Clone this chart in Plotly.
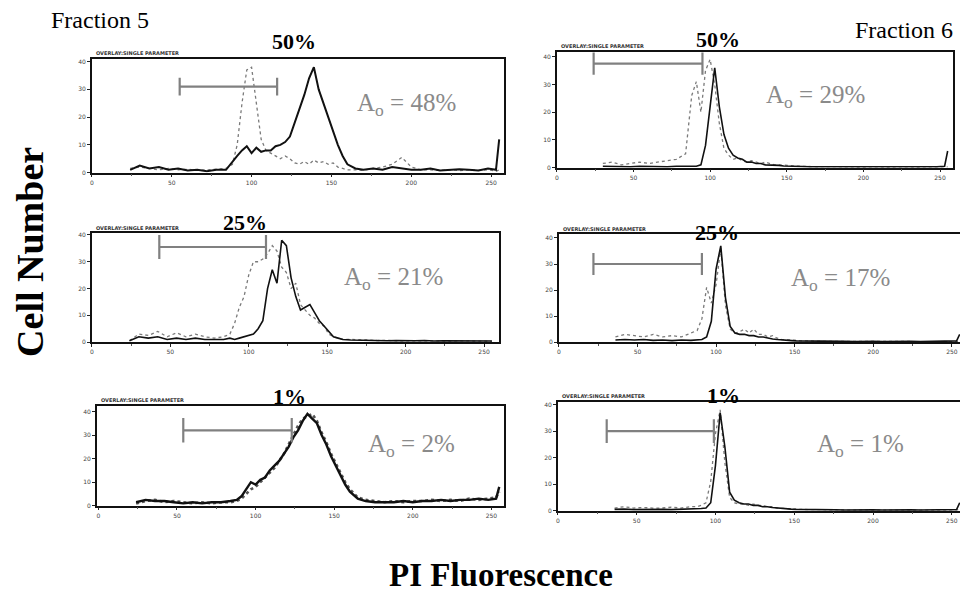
import plotly.graph_objects as go

# ---------------- data (histogram channel grid + counts) ----------------
CHANNELS = [24, 30, 36, 42, 48, 54, 60, 66, 72, 78, 84,
            88, 91, 94, 97, 100, 103, 106, 109, 112, 115, 118, 121, 124, 127, 130,
            133, 136, 139, 142, 145, 148, 151, 154, 157, 160,
            165, 170,
            176, 182, 188, 194, 200, 206, 212, 218, 224, 230, 236, 242, 248,
            253, 255]

X_TICKS = [0, 50, 100, 150, 200, 250]
Y_TICKS = [0, 10, 20, 30, 40]

# Fraction 5, 50 %
F5_50_DOT = [1.5, 2, 1.5, 1, 1.5, 1, 1.2, 0.8, 1, 1.3, 1.5,
             3, 10, 25, 37, 38, 25, 12, 8, 7, 6, 5, 6, 5, 3.5, 3,
             4, 3, 4.5, 3.5, 4, 3, 3.5, 2, 1.5, 1,
             1, 0.8,
             1.5, 2, 3, 5.5, 2, 1, 1, 0.8, 1, 0.7, 1, 0.8, 1,
             0.5, 1]
F5_50_SOLID = [1, 2.5, 1.5, 2, 1, 1.5, 0.8, 1, 0.5, 1, 1,
               4, 6, 8, 9.5, 7, 9, 7.5, 8, 8, 9.5, 10, 11, 13, 18, 23,
               28, 34, 38, 30, 25, 20, 15, 10, 6, 3,
               1.5, 1,
               1.5, 1, 2, 1.5, 1, 1, 1.5, 0.8, 1, 1.2, 1, 0.8, 1.5,
               1, 12]

# Fraction 6, 50 %
F6_50_DOT = [None, 1.5, 2, 1, 1.5, 2, 1.5, 2, 2.5, 3, 5,
             26, 31, 20, 35, 39, 30, 16, 7, 4.5, 3, 3.5, 2.5, 2, 2.5, 2,
             1.5, 2, 1.5, 1, 1, 1, 0.8, 0.6, 0.5, 0.6,
             0.4, 0.3,
             0.4, 0.3, 0.2, 0.3, 0.2, 0.3, 0.2, 0.2, 0.3, 0.2, 0.2, 0.3, 0.2,
             0.2, 0.3]
F6_50_SOLID = [None, 0.5, 0.4, 0.5, 0.3, 0.5, 0.4, 0.5, 0.3, 0.5, 0.4,
               0.5, 0.5, 1, 8, 22, 36, 22, 12, 7, 4.5, 3.5, 3, 2, 2, 1.5,
               1.5, 1, 1, 0.8, 0.8, 0.6, 0.5, 0.5, 0.4, 0.4,
               0.3, 0.3,
               0.3, 0.2, 0.3, 0.2, 0.3, 0.2, 0.3, 0.2, 0.3, 0.2, 0.3, 0.2, 0.3,
               0.5, 6]

# Fraction 5, 25 %
F5_25_DOT = [0.5, 3, 2.5, 4, 2, 3.5, 2, 3, 2, 1.5, 2,
             3, 7, 13, 17, 25, 30, 30, 31, 33, 36, 34, 28, 26, 20, 22,
             14, 12, 10, 9, 7, 6, 3, 2, 1.5, 1,
             1, 0.8,
             0.8, 0.6, 0.7, 0.5, 0.6, 0.5, 0.5, 0.4, 0.5, 0.4, 0.5, 0.4, 0.4,
             0.3, 0.3]
F5_25_SOLID = [0.5, 2, 1.5, 2, 1, 1.5, 1, 1.5, 1, 1, 1,
               1.5, 1, 1.5, 2, 2.5, 3, 5, 8, 20, 27, 22, 38, 36, 24, 17,
               12, 13, 14, 11, 8, 6, 4, 2, 1.5, 1,
               0.8, 0.7,
               0.6, 0.7, 0.5, 0.6, 0.5, 0.5, 0.6, 0.4, 0.5, 0.5, 0.4, 0.5, 0.4,
               0.4, 0.4]

# Fraction 6, 25 %
F6_25_DOT = [None, None, 2, 3, 2.5, 2, 3, 2, 2.5, 2, 3.5,
             4.5, 9, 21, 15, 22, 36, 14, 5, 3.5, 4, 5, 3.5, 5, 3, 3,
             2, 2.5, 1.5, 1, 1, 0.8, 0.6, 0.5, 0.5, 0.4,
             0.4, 0.3,
             0.3, 0.3, 0.3, 0.2, 0.3, 0.2, 0.2, 0.3, 0.2, 0.2, 0.3, 0.2, 0.2,
             0.2, 0.2]
F6_25_SOLID = [None, None, 0.8, 1, 0.8, 1, 0.7, 0.8, 0.6, 0.8, 0.7,
               0.8, 1, 2, 8, 28, 37, 17, 6, 3.5, 3, 3, 2.5, 2.5, 2, 2,
               1.5, 1.2, 1, 0.8, 0.8, 0.6, 0.5, 0.5, 0.4, 0.4,
               0.4, 0.3,
               0.3, 0.3, 0.2, 0.3, 0.3, 0.2, 0.3, 0.2, 0.3, 0.2, 0.3, 0.2, 0.3,
               0.5, 3]

# Fraction 5, 1 %
F5_1_DOT = [1, 2, 2.5, 1.5, 2, 1.5, 1, 1.5, 1, 1.5, 1.5,
            2, 3, 5, 7, 8, 10, 12, 14, 16, 19, 22, 26, 30, 34, 37,
            38, 39, 36, 31, 27, 22, 18, 14, 10, 7,
            3.5, 2.5,
            2, 1.5, 2, 1.5, 2, 2, 2.5, 2, 2.5, 2, 3, 2.5, 3,
            3.5, 6]
F5_1_SOLID = [1.5, 2.5, 2, 2, 1.5, 1, 1.5, 1, 1.5, 1.5, 2,
              2.5, 4, 7, 10, 9, 11, 12, 15, 17, 19, 22, 25, 29, 32, 36,
              39, 37, 35, 30, 26, 21, 17, 13, 9, 6,
              3, 2,
              1.5, 1.5, 1.5, 2, 1.5, 2, 2, 2.5, 2, 2.5, 2.5, 3, 2.5,
              3, 8]

# Fraction 6, 1 %
F6_1_DOT = [None, None, 1, 1.5, 1, 1.2, 1, 1, 1.3, 1, 1.5,
            1.5, 2, 3, 11, 29, 38, 18, 5, 3, 2.5, 2.5, 2, 2.5, 2, 2,
            1.5, 1.5, 1, 1, 0.8, 0.6, 0.5, 0.5, 0.4, 0.4,
            0.4, 0.3,
            0.3, 0.3, 0.2, 0.3, 0.2, 0.3, 0.2, 0.2, 0.3, 0.2, 0.2, 0.3, 0.2,
            0.2, 0.3]
F6_1_SOLID = [None, None, 0.5, 0.6, 0.4, 0.5, 0.4, 0.5, 0.4, 0.5, 0.6,
              0.6, 0.8, 1, 3, 17, 37, 24, 7, 4, 3, 2.5, 2.5, 2, 2, 1.5,
              1.5, 1.2, 1, 0.8, 0.8, 0.6, 0.5, 0.5, 0.4, 0.4,
              0.3, 0.3,
              0.3, 0.2, 0.3, 0.2, 0.3, 0.2, 0.3, 0.2, 0.3, 0.2, 0.3, 0.2, 0.3,
              0.4, 3]

# Gate markers (channel range)
GATE_LO = [55, 24, 43, 22, 54, 31]
GATE_HI = [116, 95, 111, 91, 123, 99]

TITLES = ["50%", "50%", "25%", "25%", "1%", "1%"]
AO_VALUES = ["48%", "29%", "21%", "17%", "2%", "1%"]

DOTS = [F5_50_DOT, F6_50_DOT, F5_25_DOT, F6_25_DOT, F5_1_DOT, F6_1_DOT]
SOLIDS = [F5_50_SOLID, F6_50_SOLID, F5_25_SOLID, F6_25_SOLID, F5_1_SOLID, F6_1_SOLID]

# ---------------- layout (pixel geometry of the page) ----------------
# the page body has an 8px margin, so the figure is 960x587 and shifted by 8px
OFF = 8
W, H = 968 - OFF, 595 - OFF


def fx(px):
    return (px - OFF) / W


def fy(py):
    return 1 - (py - OFF) / H


# box: (left, right, top, bottom) in page px ; y top of range ; gate level & cap half-height
PANEL_GEOM = [
    dict(box=(90, 503, 57, 172), xr=[0, 258], ytop=41.1, gate_y=31.0, cap=3.2,
         title_xy=(293, 40), ao_xy=(405, 103), lw=(1.3, 2.0)),
    dict(box=(556, 953, 50, 167), xr=[0, 258.5], ytop=41.8, gate_y=37.5, cap=4.0,
         title_xy=(717, 38), ao_xy=(815, 95), lw=(1.3, 1.6)),
    dict(box=(90, 498, 233, 343), xr=[0, 259.5], ytop=40.7, gate_y=35.5, cap=4.5,
         title_xy=(243, 222), ao_xy=(392, 279), lw=(1.3, 1.6)),
    dict(box=(558, 966, 234, 343), xr=[0, 259], ytop=41.5, gate_y=30.0, cap=4.2,
         title_xy=(716, 232), ao_xy=(840, 280), lw=(1.3, 1.6)),
    dict(box=(95, 503, 407, 508), xr=[-1, 258], ytop=42.5, gate_y=32.0, cap=5.2,
         title_xy=(288, 398), ao_xy=(410, 447), lw=(2.6, 2.4)),
    dict(box=(557, 966, 403, 513), xr=[0, 259], ytop=41.1, gate_y=30.0, cap=4.5,
         title_xy=(723, 397), ao_xy=(860, 447), lw=(1.3, 1.6)),
]

SERIF = "Liberation Serif"
fig = go.Figure()
annotations = []
layout_axes = {}

for i, g in enumerate(PANEL_GEOM):
    sfx = "" if i == 0 else str(i + 1)
    xa, ya = "x" + sfx, "y" + sfx
    x0, x1, y0, y1 = g["box"]
    dot_w, sol_w = g["lw"]
    dot_color = "#7a7a7a" if i != 4 else "#555555"

    fig.add_trace(go.Scatter(x=CHANNELS, y=DOTS[i], mode="lines", xaxis=xa, yaxis=ya,
                             line=dict(color=dot_color, width=dot_w, dash="dot"),
                             connectgaps=False, showlegend=False, hoverinfo="skip"))
    fig.add_trace(go.Scatter(x=CHANNELS, y=SOLIDS[i], mode="lines", xaxis=xa, yaxis=ya,
                             line=dict(color="#111111", width=sol_w),
                             connectgaps=False, showlegend=False, hoverinfo="skip"))
    # gate bar
    lo, hi, gy, c = GATE_LO[i], GATE_HI[i], g["gate_y"], g["cap"]
    fig.add_trace(go.Scatter(x=[lo, lo, None, lo, hi, None, hi, hi],
                             y=[gy - c, gy + c, None, gy, gy, None, gy - c, gy + c],
                             mode="lines", xaxis=xa, yaxis=ya,
                             line=dict(color="#808080", width=2.2),
                             showlegend=False, hoverinfo="skip"))

    axis_common = dict(showline=True, mirror=True, linecolor="#111111", linewidth=1.5,
                       ticks="outside", ticklen=3, tickcolor="#222222", tickwidth=1.2,
                       showgrid=False, zeroline=False,
                       tickfont=dict(size=6, color="#444444", family="DejaVu Sans"))
    layout_axes["xaxis" + sfx] = dict(axis_common, domain=[fx(x0), fx(x1)], range=g["xr"],
                                      tickvals=X_TICKS, anchor=ya,
                                      minor=dict(ticks="outside", dtick=25, ticklen=2,
                                                 tickcolor="#555555"))
    layout_axes["yaxis" + sfx] = dict(axis_common, domain=[fy(y1), fy(y0)],
                                      range=[0, g["ytop"]], tickvals=Y_TICKS, anchor=xa)

    tx, ty = g["title_xy"]
    annotations.append(dict(text="<b>" + TITLES[i] + "</b>", x=fx(tx), y=fy(ty),
                            xref="paper", yref="paper", showarrow=False,
                            xanchor="center", yanchor="middle",
                            font=dict(family=SERIF, size=22, color="#000000")))
    ax_, ay_ = g["ao_xy"]
    annotations.append(dict(text="A<sub>o</sub> = " + AO_VALUES[i], x=fx(ax_), y=fy(ay_),
                            xref="paper", yref="paper", showarrow=False,
                            xanchor="center", yanchor="middle",
                            font=dict(family=SERIF, size=25, color="#8a8a8a")))
    annotations.append(dict(text="<b>OVERLAY:SINGLE PARAMETER</b>", x=fx(x0 + 2),
                            y=fy(y0 - 0.5), xref="paper", yref="paper",
                            showarrow=False, xanchor="left", yanchor="bottom",
                            font=dict(family="DejaVu Sans", size=5, color="#333333")))

annotations += [
    dict(text="Fraction 5", x=fx(98), y=fy(18), xref="paper", yref="paper",
         showarrow=False, xanchor="center", yanchor="middle",
         font=dict(family=SERIF, size=24, color="#000000")),
    dict(text="Fraction 6", x=fx(904), y=fy(28), xref="paper", yref="paper",
         showarrow=False, xanchor="center", yanchor="middle",
         font=dict(family=SERIF, size=24, color="#000000")),
    dict(text="<b>Cell Number</b>", x=fx(28), y=fy(252), xref="paper", yref="paper",
         showarrow=False, xanchor="center", yanchor="middle", textangle=-90,
         font=dict(family=SERIF, size=38, color="#000000")),
    dict(text="<b>PI Fluorescence</b>", x=fx(500), y=fy(578), xref="paper", yref="paper",
         showarrow=False, xanchor="center", yanchor="middle",
         font=dict(family=SERIF, size=33, color="#000000")),
]

fig.update_layout(width=W, height=H, margin=dict(l=0, r=0, t=0, b=0),
                  paper_bgcolor="white", plot_bgcolor="white",
                  annotations=annotations, **layout_axes)

fig.write_html("out.html")
